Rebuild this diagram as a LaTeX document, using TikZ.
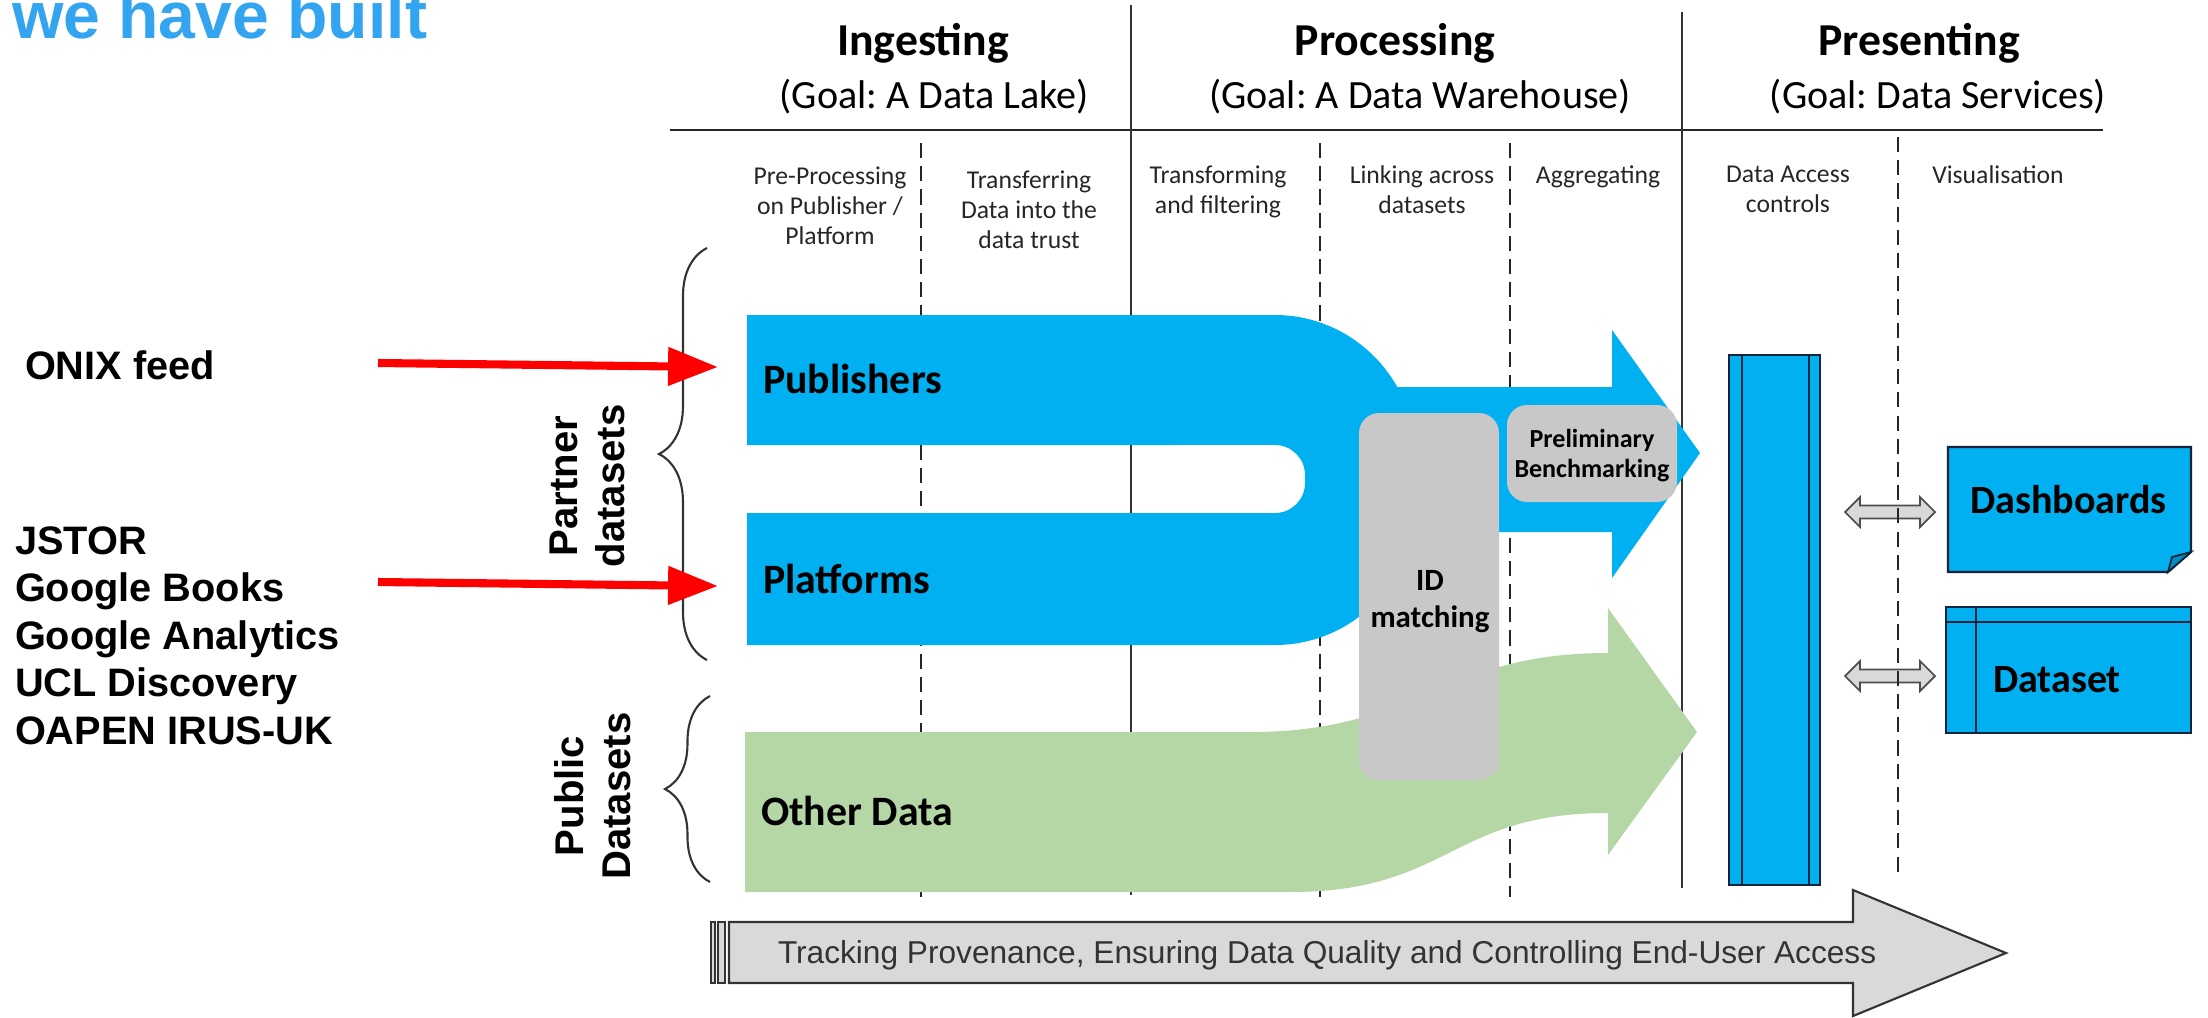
\documentclass[tikz,border=0pt]{standalone}
\usepackage{fontspec}
\setmainfont{Carlito}
\newfontfamily\arialf{Liberation Sans}
\usetikzlibrary{arrows.meta,decorations.pathreplacing}
\definecolor{pblue}{RGB}{0,176,240}
\definecolor{pgreen}{RGB}{181,215,166}
\definecolor{pgray}{RGB}{200,200,200}
\definecolor{lgray}{RGB}{217,217,217}
\definecolor{navy}{RGB}{20,35,60}
\definecolor{ttl}{RGB}{50,164,240}
\definecolor{rred}{RGB}{255,0,0}
\newcommand\fsz[2]{\fontsize{#1}{#2}\selectfont}
\frenchspacing
\begin{document}
\begin{tikzpicture}[x=0.01cm,y=-0.01cm,
  every node/.style={inner sep=0pt, outer sep=0pt},
  vline/.style={draw=black!80, line width=0.5pt},
  dline/.style={draw=black!85, line width=0.6pt, dash pattern=on 4.3pt off 2.3pt},
  hdr/.style={font=\fsz{13}{15}\bfseries, anchor=base},
  goal/.style={font=\fsz{11.4}{13}, anchor=base},
  sub/.style={font=\fsz{7.3}{8.5}, align=center, anchor=base, text=black!85},
  band/.style={font=\fsz{11.9}{14}\bfseries, anchor=base west},
  grbox/.style={fill=pgray, rounded corners=0.2cm},
  bluebox/.style={fill=pblue, draw=navy, line width=0.6pt},
  dblarrow/.style={fill=lgray, draw=black!70, line width=0.5pt},
  redarrow/.style={draw=rred, line width=2.3pt, -{Triangle[length=14.2pt,width=10.5pt]}},
  lefttxt/.style={font=\arialf\fsz{11.3}{13.5}\bfseries, anchor=base west, align=left},
  sidelbl/.style={font=\arialf\fsz{11.4}{13.4}\bfseries, align=center, rotate=90},
  bracestyle/.style={draw=black!80, line width=0.6pt, decorate, decoration={brace, amplitude=#1}},
]
\useasboundingbox (0,0) rectangle (2208,1017);

% title
\node[font=\arialf\fsz{18.8}{22}\bfseries, text=ttl, anchor=base west] (title) at (12,38) {we have built};

% left labels (multi-line nodes are placed by their last baseline)
\node[lefttxt] (onix) at (25,379) {ONIX feed};
\node[lefttxt] (srcs) at (15,744) {JSTOR\\Google Books\\Google Analytics\\UCL Discovery\\OAPEN IRUS-UK};

% double arrows (behind dashed line)
\draw[dblarrow] (1845,512) -- (1860,497) -- (1860,505.5) -- (1920,505.5) -- (1920,497) -- (1935,512) -- (1920,527) -- (1920,518.5) -- (1860,518.5) -- (1860,527) -- cycle;
\draw[dblarrow] (1845,676) -- (1860,661) -- (1860,669.5) -- (1920,669.5) -- (1920,661) -- (1935,676) -- (1920,691) -- (1920,682.5) -- (1860,682.5) -- (1860,691) -- cycle;

% grid lines
\draw[line width=0.8pt, black!85] (670,130) -- (2103,130);
\draw[vline] (1131,5) -- (1131,895);
\draw[vline] (1682,12) -- (1682,888);
\draw[dline] (921,143) -- (921,897);
\draw[dline] (1320,143) -- (1320,897);
\draw[dline] (1510,143) -- (1510,897);
\draw[dline] (1898,137) -- (1898,875);

% headers
\node[hdr] (h1) at (923,55) {Ingesting};
\node[goal] (g1) at (934,108) {(Goal: A Data Lake)};
\node[hdr] (h2) at (1395,55) {Processing};
\node[goal] (g2) at (1420,108) {(Goal: A Data Warehouse)};
\node[hdr] (h3) at (1919,55) {Presenting};
\node[goal] (g3) at (1938,108) {(Goal: Data Services)};

% sub headers
\node[sub] (s1) at (830,244) {Pre-Processing\\on Publisher /\\Platform};
\node[sub] (s2) at (1029,248) {Transferring\\Data into the\\data trust};
\node[sub] (s3) at (1218,213) {Transforming\\and filtering};
\node[sub] (s4) at (1422,213) {Linking across\\datasets};
\node[sub] (s5) at (1598,183) {Aggregating};
\node[sub] (s6) at (1788,212) {Data Access\\controls};
\node[sub] (s7) at (1998,183) {Visualisation};

% braces and side labels
\draw[bracestyle=0.48cm] (707,660) -- (707,248);
\draw[bracestyle=0.45cm] (710,882) -- (710,696);
\node[sidelbl] (partner) at (587,486) {Partner\\datasets};
\node[sidelbl] (public) at (593,796) {Public\\Datasets};

% green arrow
\fill[pgreen] (745,732) -- (1250,732) .. controls (1420,732) and (1440,653) .. (1608,653) -- (1608,608) -- (1697,732) -- (1608,855) -- (1608,813) .. controls (1450,813) and (1450,892) .. (1290,892) -- (745,892) -- cycle;

% blue U shape
\fill[pblue] (747,315) -- (1275,315) .. controls (1352,315) and (1415,378) .. (1415,455) -- (1415,505) .. controls (1415,582) and (1352,645) .. (1275,645) -- (747,645) -- (747,513) -- (1275,513) arc[start angle=-90,end angle=0,radius=0.3cm] -- (1305,475) arc[start angle=0,end angle=90,radius=0.3cm] -- (747,445) -- cycle;
% blue shaft + head
\fill[pblue] (1390,387) -- (1612,387) -- (1612,330) -- (1700,453) -- (1612,578) -- (1612,532) -- (1390,532) -- cycle;

% gray boxes
\fill[grbox] (1359,413) rectangle (1499,780);
\fill[grbox] (1507,405) rectangle (1677,502);
\node[font=\fsz{8.8}{10.5}\bfseries, align=center, anchor=base] (idm) at (1430,627) {ID\\matching};
\node[font=\fsz{7.4}{8.3}\bfseries, align=center, anchor=base] (prel) at (1592,477) {Preliminary\\Benchmarking};

% band labels
\node[band] (pub) at (763,393) {Publishers};
\node[band] (plat) at (763,593) {Platforms};
\node[band] (oth) at (761,825) {Other Data};

% red arrows
\coordinate (onixS) at (378,363);
\coordinate (pubE) at (718,367);
\coordinate (srcS) at (378,582);
\coordinate (platE) at (718,586);
\draw[redarrow] (onixS) -- (pubE);
\draw[redarrow] (srcS) -- (platE);

% data access box
\draw[bluebox] (1729,355) rectangle (1820,885);
\draw[navy, line width=0.6pt] (1742,355) -- (1742,885) (1809,355) -- (1809,885);

% dashboards
\draw[bluebox] (1948,447) -- (2191,447) -- (2191,552) -- (2168,572) -- (1948,572) -- cycle;
\draw[fill=pblue!80!black, draw=navy, line width=0.5pt] (2191,552) -- (2172,557) -- (2168,572) -- cycle;
\node[font=\fsz{11.4}{13}\bfseries, anchor=base west] (dash) at (1970,513) {Dashboards};

% dataset
\draw[bluebox] (1946,607) rectangle (2191,733);
\draw[navy, line width=0.6pt] (1976,607) -- (1976,733) (1946,622) -- (2191,622);
\node[font=\fsz{11.4}{13}\bfseries, anchor=base west] (dset) at (1993,692) {Dataset};

% bottom arrow
\draw[fill=lgray, draw=black!80, line width=0.6pt] (711,922) rectangle (715,983);
\draw[fill=lgray, draw=black!80, line width=0.6pt] (718,922) rectangle (725,983);
\draw[fill=lgray, draw=black!80, line width=0.6pt] (729,922) -- (1853,922) -- (1853,890) -- (2006,953) -- (1853,1016) -- (1853,983) -- (729,983) -- cycle;
\node[font=\arialf\fsz{9}{11}, text=black!80, anchor=base west] (track) at (778,963) {Tracking Provenance, Ensuring Data Quality and Controlling End-User Access};
\end{tikzpicture}
\end{document}
